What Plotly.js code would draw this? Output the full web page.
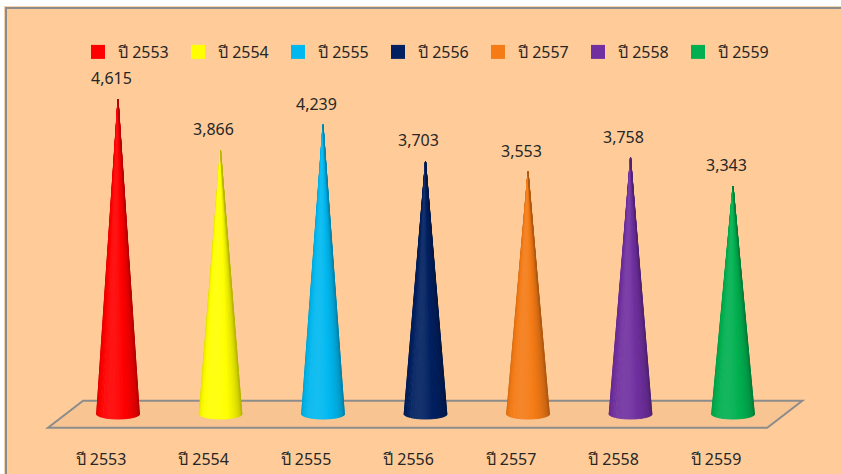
<!DOCTYPE html>
<html><head><meta charset="utf-8">
<script src="https://cdn.plot.ly/plotly-3.0.1.min.js"></script>
<style>
html,body{margin:0;padding:0;background:#fff;}
#wrap{position:relative;width:841px;height:474px;overflow:hidden;}
#chart{position:absolute;left:0;top:0;width:841px;height:474px;}
.ov{position:absolute;pointer-events:none;}
</style></head><body>
<div id="wrap"><div id="chart"></div>
<div class="ov" style="left:0;top:0;width:841px;height:6px;background:#fff"></div>
<div class="ov" style="left:0;top:0;width:4px;height:474px;background:#fff"></div>
<div class="ov" style="left:4px;top:6px;width:837px;height:1px;background:#f3d2b0"></div>
<div class="ov" style="left:4px;top:6px;width:1px;height:468px;background:#f3d2b0"></div>
<div class="ov" style="left:5px;top:7px;width:836px;height:2px;background:#8c8c8c"></div>
<div class="ov" style="left:5px;top:7px;width:2px;height:467px;background:#8c8c8c"></div>
</div>
<script>
const categories = ['ปี 2553','ปี 2554','ปี 2555','ปี 2556','ปี 2557','ปี 2558','ปี 2559'];
const values = [4615, 3866, 4239, 3703, 3553, 3758, 3343];
const colors = ['#FF0000','#FFFF00','#00B8F0','#002060','#F47B16','#7030A0','#00B050'];

const FONT = "Tahoma, 'Noto Sans', 'DejaVu Sans', sans-serif";
const TXT = '#262626';

function hexToRgb(h){h=h.replace('#','');return [0,2,4].map(i=>parseInt(h.substr(i,2),16));}
function shade(hex,f){
  let c=hexToRgb(hex);
  if(f<=1){c=c.map(v=>v*f);}
  else{const k=Math.min(1,(f-1)*1.6);c=c.map(v=>v+(255-v)*k);}
  return 'rgb('+c.map(v=>Math.round(Math.max(0,Math.min(255,v)))).join(',')+')';
}

const A = 0.21;   // cone base half-width (x units)
const B = 73;     // cone base ellipse half-height (y units)
const N = 24;
const traces = [];
values.forEach((v,i)=>{
  for(let k=0;k<N;k++){
    const t1=Math.PI*k/N, t2=Math.PI*(k+1)/N;
    const xs=[i], ys=[v];
    for(let s=0;s<=3;s++){
      const t=t1+(t2-t1)*s/3;
      xs.push(i-A*Math.cos(t)); ys.push(-B*Math.sin(t));
    }
    xs.push(i); ys.push(v);
    const phi=(t1+t2)/2-Math.PI/2;
    const f=0.78+0.27*Math.cos(phi+0.3);
    const col=shade(colors[i],f);
    traces.push({type:'scatter',mode:'lines',x:xs,y:ys,fill:'toself',fillcolor:col,
      line:{color:col,width:1},showlegend:false,hoverinfo:'skip',legendgroup:'g'+i});
  }
});
categories.forEach((c,i)=>{
  traces.push({type:'scatter',mode:'markers',x:[null],y:[null],name:c,legendgroup:'g'+i,
    marker:{symbol:'square',size:14,color:colors[i]},hoverinfo:'skip'});
});

const annotations = values.map((v,i)=>({x:i,y:v,xref:'x',yref:'y',text:v.toLocaleString('en-US'),
  showarrow:false,yanchor:'middle',yshift:21,xshift:-7,font:{family:FONT,size:16,color:TXT}}));

const layout = {
  width:841,height:474,
  paper_bgcolor:'#FFCC99',plot_bgcolor:'rgba(0,0,0,0)',
  margin:{l:40,r:31,t:59,b:40,autoexpand:false},
  xaxis:{range:[-0.761,6.751],tickvals:categories.map((c,i)=>i),ticktext:categories,
    showgrid:false,zeroline:false,showline:false,ticks:'',ticklabelshift:-17,ticklabelstandoff:14,
    tickfont:{family:FONT,size:16,color:TXT},fixedrange:true},
  yaxis:{range:[-293,5205],visible:false,fixedrange:true},
  showlegend:true,
  legend:{orientation:'h',xref:'container',yref:'container',x:78/841,xanchor:'left',
    y:1-52/474,yanchor:'middle',font:{family:FONT,size:16,color:TXT},bgcolor:'rgba(0,0,0,0)',
    traceorder:'normal',itemsizing:'trace',entrywidth:55},
  shapes:[{type:'path',xref:'x',yref:'y',layer:'below',
    path:'M -0.341,195 L 6.676,195 L 6.334,-201 L -0.683,-201 Z',
    fillcolor:'rgba(190,140,100,0.12)',line:{color:'#8c8c8c',width:2}}],
  annotations:annotations
};
Plotly.newPlot('chart',traces,layout,{displayModeBar:false,staticPlot:true});
</script>
</body></html>
